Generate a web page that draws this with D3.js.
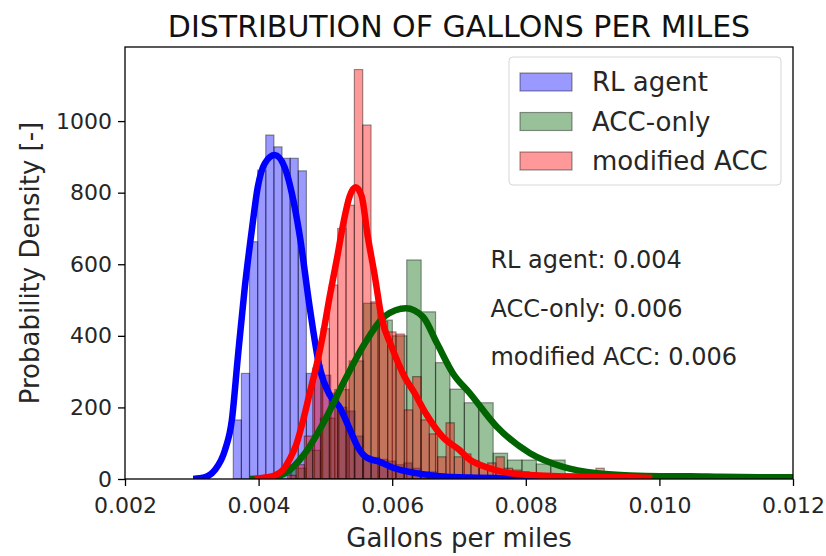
<!DOCTYPE html>
<html>
<head>
<meta charset="utf-8">
<script src="https://cdn.jsdelivr.net/npm/d3@7"></script>
<style>
  html, body { margin: 0; padding: 0; background: #fff; }
  svg { display: block; font-family: "DejaVu Sans", sans-serif; }
</style>
</head>
<body>
<svg id="chart" width="826" height="556"></svg>
<script>
// Histogram bins (left edge of first bin, bin width, heights)
const blueStart = 0.003621, blueWidth = 0.0001216;
const blueHeights = [165, 295, 663, 863, 961, 928, 896, 896, 861, 295, 318, 290, 240, 200, 190, 120,
  60, 60, 55, 50, 40, 45, 30, 20, 20, 15, 10, 10, 5, 5, 3, 3, 2];

const greenStart = 0.004493, greenWidth = 0.0002156;
const greenHeights = [30, 80, 170, 250, 330, 491, 444, 400, 612, 467, 325, 251, 213, 213, 72, 53,
  53, 42, 53, 15, 10, 5, 3, 0, 0, 0, 0, 2, 2];

const redStart = 0.004436, redWidth = 0.0001247;
const redHeights = [10, 40, 120, 310, 420, 542, 700, 765, 1144, 989, 495, 440, 411, 405, 193, 286,
  165, 126, 62, 157, 62, 70, 50, 40, 45, 62, 30, 25, 20, 15, 12, 10, 8, 6, 5, 4, 3, 30, 4];

// Density curves
const blueKdeX = [0.00302, 0.00320, 0.003345, 0.003495, 0.0036, 0.003689, 0.003794, 0.003898, 0.003988,
  0.004093, 0.004242, 0.004392, 0.004496, 0.004616, 0.004765, 0.004915, 0.005064, 0.005214, 0.005363,
  0.005483, 0.005617, 0.005811, 0.006036, 0.006335, 0.006709, 0.007157, 0.007904, 0.0086];
const blueKdeY = [0, 5, 25, 80, 165, 340, 537, 695, 816, 882, 905, 870, 800, 680, 480, 310, 235, 200, 140,
  90, 60, 48, 30, 17, 8, 4, 2, 1];

const greenKdeX = [0.003871, 0.00414, 0.004395, 0.004694, 0.004994, 0.005293, 0.005593, 0.005892, 0.006207,
  0.006461, 0.006671, 0.00691, 0.007165, 0.007566, 0.008063, 0.008557, 0.009066, 0.00956, 0.01001,
  0.010458, 0.010907, 0.011506, 0.0122];
const greenKdeY = [0, 3, 16, 72, 165, 277, 380, 455, 477, 453, 379, 295, 239, 146, 72, 34, 16, 10, 8, 8, 6, 5, 5];

const redKdeX = [0.003943, 0.004093, 0.004242, 0.004362, 0.004466, 0.004571, 0.004661, 0.004765, 0.00487,
  0.00496, 0.005064, 0.005169, 0.005274, 0.005363, 0.005453, 0.005543, 0.005632, 0.005737, 0.005841,
  0.005991, 0.006185, 0.006335, 0.006514, 0.006753, 0.007007, 0.007157, 0.007381, 0.007605, 0.008054,
  0.008801, 0.009549, 0.009893];
const redKdeY = [0, 4, 10, 25, 55, 100, 160, 240, 320, 400, 510, 612, 720, 790, 815, 790, 680, 570, 450,
  370, 286, 240, 180, 118, 81, 55, 35, 22, 11, 6, 5, 3];

const seriesNames = ["RL agent", "ACC-only", "modified ACC"];
const meanLabels = ["RL agent: 0.004", "ACC-only: 0.006", "modified ACC: 0.006"];
const meanLabelY = [590, 452, 318];
const xTicks = [0.002, 0.004, 0.006, 0.008, 0.010, 0.012];
const yTicks = [0, 200, 400, 600, 800, 1000];

const fills = ["rgba(0,0,255,0.4)", "rgba(0,100,0,0.4)", "rgba(255,0,0,0.4)"];
const lineColors = ["#0000ff", "#006400", "#ff0000"];

const margin = {left: 125, right: 33, top: 47, bottom: 77};
const W = 826, H = 556;
const svg = d3.select("#chart");

const x = d3.scaleLinear().domain([0.002, 0.012]).range([margin.left, W - margin.right]);
const y = d3.scaleLinear().domain([0, 1207]).range([H - margin.bottom, margin.top]);

svg.append("defs").append("clipPath").attr("id", "plotClip")
  .append("rect")
  .attr("x", margin.left).attr("y", margin.top)
  .attr("width", x.range()[1] - margin.left).attr("height", y.range()[0] - margin.top);

const plot = svg.append("g").attr("clip-path", "url(#plotClip)");

// bars
const hists = [
  {start: blueStart, width: blueWidth, heights: blueHeights},
  {start: greenStart, width: greenWidth, heights: greenHeights},
  {start: redStart, width: redWidth, heights: redHeights}
];
hists.forEach((h, s) => {
  const bins = h.heights.map((v, i) => ({x0: h.start + i * h.width, x1: h.start + (i + 1) * h.width, v}))
    .filter(b => b.v > 0);
  plot.append("g").selectAll("rect").data(bins).join("rect")
    .attr("x", d => x(d.x0))
    .attr("width", d => x(d.x1) - x(d.x0))
    .attr("y", d => y(d.v))
    .attr("height", d => y(0) - y(d.v))
    .attr("fill", fills[s])
    .attr("stroke", "rgba(0,0,0,0.4)")
    .attr("stroke-width", 1.2);
});

// density lines
const kdes = [[blueKdeX, blueKdeY], [greenKdeX, greenKdeY], [redKdeX, redKdeY]];
const line = d3.line().x(d => x(d[0])).y(d => y(d[1])).curve(d3.curveMonotoneX);
kdes.forEach((k, s) => {
  plot.append("path")
    .datum(k[0].map((v, i) => [v, k[1][i]]))
    .attr("d", line)
    .attr("fill", "none")
    .attr("stroke", lineColors[s])
    .attr("stroke-width", 6.5)
    .attr("stroke-linejoin", "round");
});

// axes
const xAxis = svg.append("g").attr("transform", `translate(0,${y(0)})`)
  .call(d3.axisBottom(x).tickValues(xTicks).tickFormat(d3.format(".3f")).tickSizeOuter(0).tickSize(7).tickPadding(11));
const yAxis = svg.append("g").attr("transform", `translate(${margin.left},0)`)
  .call(d3.axisLeft(y).tickValues(yTicks).tickFormat(d3.format("d")).tickSizeOuter(0).tickSize(7).tickPadding(6));
[xAxis, yAxis].forEach(a => {
  a.select(".domain").remove();
  a.selectAll("line").attr("stroke", "#000").attr("stroke-width", 1.3);
  a.selectAll("text").attr("font-size", 22).attr("fill", "#262626").attr("font-family", "DejaVu Sans");
});

// frame
svg.append("rect")
  .attr("x", margin.left).attr("y", margin.top)
  .attr("width", x.range()[1] - margin.left).attr("height", y.range()[0] - margin.top)
  .attr("fill", "none").attr("stroke", "#000").attr("stroke-width", 1.3);

// titles
svg.append("text").attr("x", (margin.left + x.range()[1]) / 2).attr("y", 37)
  .attr("text-anchor", "middle").attr("font-size", 30).attr("fill", "#111")
  .text("DISTRIBUTION OF GALLONS PER MILES");
svg.append("text").attr("x", (margin.left + x.range()[1]) / 2).attr("y", 547)
  .attr("text-anchor", "middle").attr("font-size", 26).attr("fill", "#262626")
  .text("Gallons per miles");
svg.append("text").attr("transform", `translate(39,${(margin.top + y(0)) / 2}) rotate(-90)`)
  .attr("text-anchor", "middle").attr("font-size", 26).attr("fill", "#262626")
  .text("Probability Density [-]");

// mean annotations
meanLabels.forEach((t, i) => {
  svg.append("text").attr("x", x(0.0075) - 2).attr("y", y(meanLabelY[i]))
    .attr("font-size", 24).attr("fill", "#262626").text(t);
});

// legend
const lg = svg.append("g").attr("transform", "translate(509,57)");
lg.append("rect").attr("width", 272).attr("height", 128).attr("rx", 4)
  .attr("fill", "rgba(255,255,255,0.8)").attr("stroke", "#d6d6d6");
seriesNames.forEach((n, i) => {
  const row = lg.append("g").attr("transform", `translate(11,${25 + i * 39.5})`);
  row.append("rect").attr("x", 0).attr("y", -9).attr("width", 52).attr("height", 18)
    .attr("fill", fills[i]).attr("stroke", "rgba(0,0,0,0.4)").attr("stroke-width", 1.2);
  row.append("text").attr("x", 72).attr("y", 9).attr("font-size", 26).attr("fill", "#262626").text(n);
});
</script>
</body>
</html>
